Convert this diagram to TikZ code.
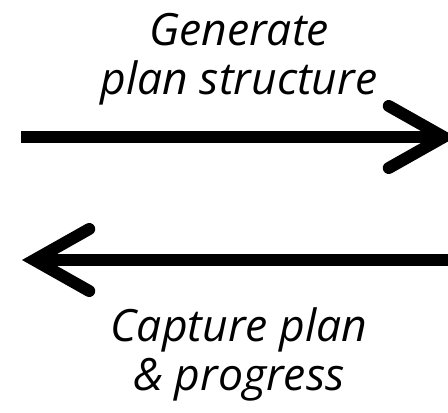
\documentclass[tikz,border=0pt]{standalone}
\usepackage{fontspec}
\setmainfont{Open Sans}
\usetikzlibrary{arrows.meta}
\begin{document}
\begin{tikzpicture}[
    x=1pt, y=1pt,
    flow/.style={line width=12pt, -{Straight Barb[length=55pt, width=62pt, line cap=round, line join=miter]}},
    caption/.style={align=center, inner sep=0pt, font=\itshape\fontsize{44.5}{49}\selectfont}
]
\useasboundingbox (0,0) rectangle (448,413);
\clip (0,0) rectangle (448,413);

% end points of the two arrows
\coordinate (genL) at (21,276);
\coordinate (genR) at (456,276);
\coordinate (capR) at (470,153);
\coordinate (capL) at (22,153);

% arrows
\draw[flow] (genL) -- (genR);
\draw[flow] (capR) -- (capL);

% captions
\node[caption, anchor=north] (gen) at (239,400) {Generate\\plan structure};
\node[caption, anchor=north] (cap) at (239,106) {Capture plan\\\& progress};
\end{tikzpicture}
\end{document}
